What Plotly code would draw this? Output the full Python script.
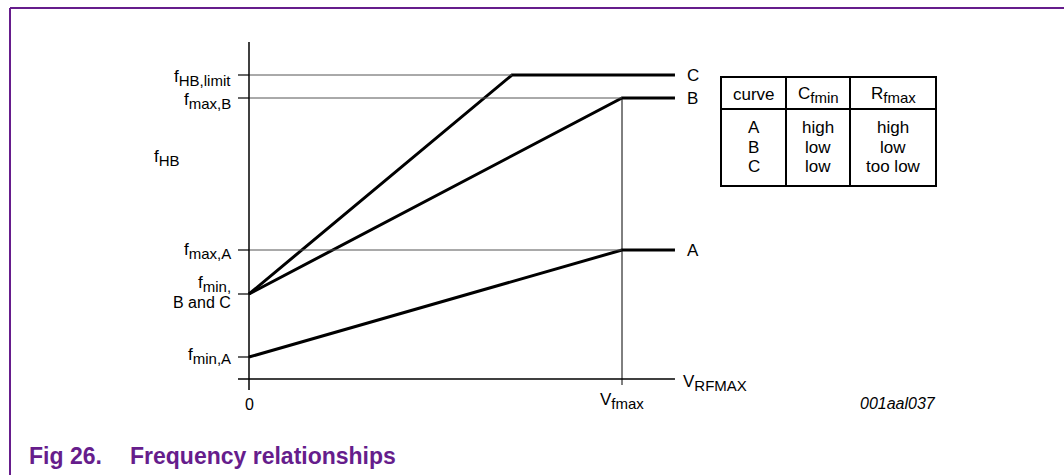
import plotly.graph_objects as go

# ---- data -------------------------------------------------------------
# Frequency levels on the f_HB axis (arbitrary units)
F_MIN_A = 22
F_MIN_BC = 85
F_MAX_A = 129
F_MAX_B = 281
F_HB_LIMIT = 304

# Control voltage positions (V_fmax normalised to 1)
V_FMAX = 1.0
V_C_SAT = 0.705      # where curve C reaches f_HB,limit
V_END = 1.142        # right end of the plotted curves

curve_names = ["A", "B", "C"]
curve_x = {
    "A": [0, V_FMAX, V_END],
    "B": [0, V_FMAX, V_END],
    "C": [0, V_C_SAT, V_END],
}
curve_y = {
    "A": [F_MIN_A, F_MAX_A, F_MAX_A],
    "B": [F_MIN_BC, F_MAX_B, F_MAX_B],
    "C": [F_MIN_BC, F_HB_LIMIT, F_HB_LIMIT],
}

table_header = [("curve", ""), ("C", "fmin"), ("R", "fmax")]
table_rows = [
    ["A", "high", "high"],
    ["B", "low", "low"],
    ["C", "low", "too low"],
]

# ---- canvas -----------------------------------------------------------
W, H = 1064, 475
X0_PX, XUNIT_PX = 249, 373      # pixel of V=0 and pixels per V_fmax
Y0_PX = 379                     # pixel of f=0

FONT = "Liberation Sans, Arial, Helvetica, sans-serif"
PURPLE = "#661d8c"
GUIDE = "#555555"


def px(x):
    return x / W


def py(y):
    return 1 - y / H


def fx(xp):
    return (xp - X0_PX) / XUNIT_PX


def fy(yp):
    return Y0_PX - yp


def level_px(level):
    return Y0_PX - level


fig = go.Figure()

# curves A, B, C
for name in curve_names:
    fig.add_trace(go.Scatter(
        x=curve_x[name], y=curve_y[name], mode="lines",
        line=dict(color="black", width=3), hoverinfo="skip", showlegend=False,
    ))

shapes = []
tick_len = fx(X0_PX - 11)

# horizontal guides from the axis to each break point
for level, xend in [(F_HB_LIMIT, V_C_SAT), (F_MAX_B, V_FMAX), (F_MAX_A, V_FMAX)]:
    shapes.append(dict(type="line", xref="x", yref="y", x0=0, x1=xend,
                       y0=level, y1=level, line=dict(color=GUIDE, width=1)))

# vertical marker at V_fmax
shapes.append(dict(type="line", xref="x", yref="y", x0=V_FMAX, x1=V_FMAX,
                   y0=F_MAX_B, y1=fy(385), line=dict(color="black", width=1)))

# axes
shapes.append(dict(type="line", xref="x", yref="y", x0=tick_len, x1=V_END,
                   y0=0, y1=0, line=dict(color="black", width=1.5)))
shapes.append(dict(type="line", xref="x", yref="y", x0=0, x1=0,
                   y0=fy(390), y1=fy(42), line=dict(color="black", width=1.5)))

# tick stubs on the frequency axis
for level in [F_MIN_A, F_MIN_BC, F_MAX_A, F_MAX_B, F_HB_LIMIT]:
    shapes.append(dict(type="line", xref="x", yref="y", x0=tick_len, x1=0,
                       y0=level, y1=level, line=dict(color="black", width=1.2)))

# page frame
shapes.append(dict(type="line", xref="paper", yref="paper", x0=px(10), x1=1,
                   y0=py(8), y1=py(8), line=dict(color=PURPLE, width=2)))
shapes.append(dict(type="line", xref="paper", yref="paper", x0=px(10), x1=px(10),
                   y0=py(8), y1=0, line=dict(color=PURPLE, width=2)))

# table frame
TL, TR, TT, TB = 721, 936, 77, 186
col_px = [TL, 786, 850, TR]
HEAD_SEP = 109
shapes.append(dict(type="rect", xref="paper", yref="paper", x0=px(TL), x1=px(TR),
                   y0=py(TT), y1=py(TB), line=dict(color="black", width=2)))
for c in col_px[1:-1]:
    shapes.append(dict(type="line", xref="paper", yref="paper", x0=px(c), x1=px(c),
                       y0=py(TT), y1=py(TB), line=dict(color="black", width=2)))
shapes.append(dict(type="line", xref="paper", yref="paper", x0=px(TL), x1=px(TR),
                   y0=py(HEAD_SEP), y1=py(HEAD_SEP), line=dict(color="black", width=2)))

annotations = []


def label(text, xp, yp, xanchor="center", size=16, color="black", italic=False, bold=False):
    t = text
    if bold:
        t = "<b>" + t + "</b>"
    if italic:
        t = "<i>" + t + "</i>"
    annotations.append(dict(
        text=t, x=px(xp), y=py(yp), xref="paper", yref="paper",
        xanchor=xanchor, yanchor="middle", showarrow=False,
        font=dict(family=FONT, size=size, color=color),
    ))


def subbed(main, sub, sub_size=15):
    # main symbol at body size, subscript text kept close to body size
    return main + "<sub><span style='font-size:%dpx'>%s</span></sub>" % (sub_size, sub)


# frequency axis labels
label(subbed("f", "HB,limit"), 233, level_px(F_HB_LIMIT) + 3, "right", size=17)
label(subbed("f", "max,B"), 233, level_px(F_MAX_B) + 3, "right", size=17)
label(subbed("f", "HB"), 152, 158, "left", size=17)
label(subbed("f", "max,A"), 233, level_px(F_MAX_A) + 1, "right", size=17)
label(subbed("f", "min,"), 233, level_px(F_MIN_BC) - 10, "right", size=17)
label("B and C", 233, level_px(F_MIN_BC) + 8, "right", size=16)
label(subbed("f", "min,A"), 233, level_px(F_MIN_A) - 1, "right", size=17)

# voltage axis labels
label("0", X0_PX, 404, "center", size=16)
label(subbed("V", "fmax"), X0_PX + XUNIT_PX * V_FMAX, 401, "center", size=17)
label(subbed("V", "RFMAX"), 681, 383, "left", size=17)

# curve names at the right ends
for name in curve_names:
    label(name, 685, level_px(curve_y[name][-1]), "left", size=17)

# table text
col_centres = [(col_px[i] + col_px[i + 1]) / 2 for i in range(3)]
for i, (main, sub) in enumerate(table_header):
    txt = subbed(main, sub) if sub else main
    label(txt, col_centres[i], 95, "center", size=17)
for r, row in enumerate(table_rows):
    for i, cell in enumerate(row):
        label(cell, col_centres[i], 127 + 20 * r, "center", size=17)

# figure code and caption
label("001aal037", 898, 403, "center", size=16, italic=True)
label("Fig 26.", 27, 456, "left", size=23, color=PURPLE, bold=True)
label("Frequency relationships", 128, 456, "left", size=23, color=PURPLE, bold=True)

fig.update_layout(
    width=W, height=H,
    margin=dict(l=0, r=0, t=0, b=0),
    paper_bgcolor="white", plot_bgcolor="white",
    xaxis=dict(range=[fx(0), fx(W)], visible=False, fixedrange=True),
    yaxis=dict(range=[fy(H), fy(0)], visible=False, fixedrange=True),
    shapes=shapes, annotations=annotations,
    showlegend=False,
)

fig.write_html("out.html")
